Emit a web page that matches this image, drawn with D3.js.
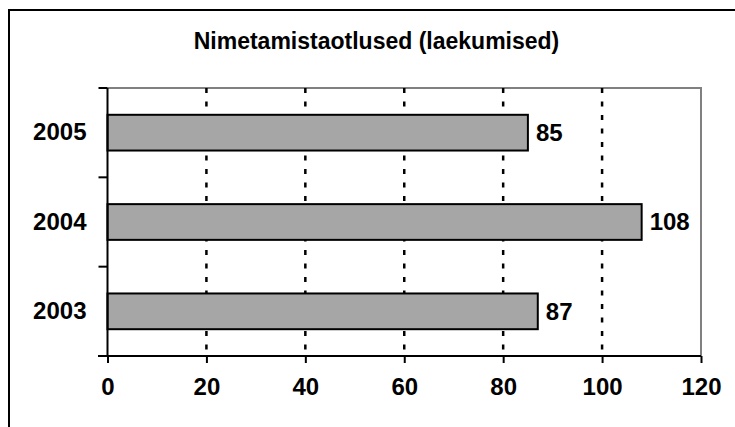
<!DOCTYPE html>
<html><head><meta charset="utf-8">
<script src="https://cdn.jsdelivr.net/npm/d3@7"></script>
<style>html,body{margin:0;padding:0;background:#fff;}svg{display:block;font-family:"Liberation Sans",Arial,sans-serif;}</style>
</head><body>
<svg id="c" width="735" height="427"></svg>
<script>
const title = "Nimetamistaotlused (laekumised)";
const categories = ["2005", "2004", "2003"];
const values = [85, 108, 87];
const xTicks = [0, 20, 40, 60, 80, 100, 120];

const svg = d3.select("#c");
const L = 107.5, R = 701, T = 88, B = 356;
const x = d3.scaleLinear().domain([0, 120]).range([L, R]);
const y = d3.scaleBand().domain(categories).range([T, B]).paddingInner(0.6).paddingOuter(0.3);
const FS = 24;

// outer chart border (cut off at right/bottom)
svg.append("rect").attr("x", 9).attr("y", 10).attr("width", 800).attr("height", 500)
  .attr("fill", "#fff").attr("stroke", "#000").attr("stroke-width", 2);

// title
svg.append("text").attr("x", 376.5).attr("y", 49).attr("text-anchor", "middle")
  .attr("font-size", 23).attr("font-weight", "bold").text(title);

// plot border (gray top/right)
svg.append("path").attr("d", `M${L},${T}H${R}V${B}`).attr("fill", "none")
  .attr("stroke", "#808080").attr("stroke-width", 2);

// gridlines
svg.append("g").selectAll("line").data(xTicks.filter(d => d > 0 && d < 120)).join("line")
  .attr("x1", d => x(d)).attr("x2", d => x(d)).attr("y1", T).attr("y2", B)
  .attr("stroke", "#000").attr("stroke-width", 2.5).attr("stroke-dasharray", "5,8.5");

// bars
svg.append("g").selectAll("rect").data(categories).join("rect")
  .attr("x", x(0)).attr("y", d => y(d))
  .attr("width", (d, i) => x(values[i]) - x(0)).attr("height", y.bandwidth())
  .attr("fill", "#a6a6a6").attr("stroke", "#000").attr("stroke-width", 2);

// value labels
svg.append("g").selectAll("text").data(categories).join("text")
  .attr("x", (d, i) => x(values[i]) + 8).attr("y", d => y(d) + y.bandwidth() / 2)
  .attr("dy", "0.35em").attr("font-size", FS).attr("font-weight", "bold")
  .text((d, i) => values[i]);

// x axis
const xa = svg.append("g").attr("transform", `translate(0,${B})`)
  .call(d3.axisBottom(x).tickValues(xTicks).tickSize(7).tickPadding(15));
xa.select(".domain").attr("d", `M98,0H${R}`).attr("stroke", "#000").attr("stroke-width", 2);
xa.selectAll(".tick line").attr("stroke", "#000").attr("stroke-width", 2);
xa.selectAll(".tick text").attr("font-size", FS).attr("font-weight", "bold")
  .attr("font-family", "Liberation Sans, Arial, sans-serif").attr("fill", "#000");

// y axis
const ya = svg.append("g").attr("transform", `translate(${L},0)`)
  .call(d3.axisLeft(y).tickSize(0).tickPadding(21));
ya.select(".domain").attr("d", `M0,${T}V${B}`).attr("stroke", "#000").attr("stroke-width", 2);
ya.selectAll(".tick text").attr("font-size", FS).attr("font-weight", "bold")
  .attr("font-family", "Liberation Sans, Arial, sans-serif").attr("fill", "#000");
// category boundary ticks
const edges = [T].concat(categories.slice(1).map(d => (y(d) + y.bandwidth()/2) - y.step()/2)).concat([B]);
ya.append("g").selectAll("line").data(edges).join("line")
  .attr("x1", -9).attr("x2", 0).attr("y1", d => d).attr("y2", d => d)
  .attr("stroke", "#000").attr("stroke-width", 2);
</script>
</body></html>
